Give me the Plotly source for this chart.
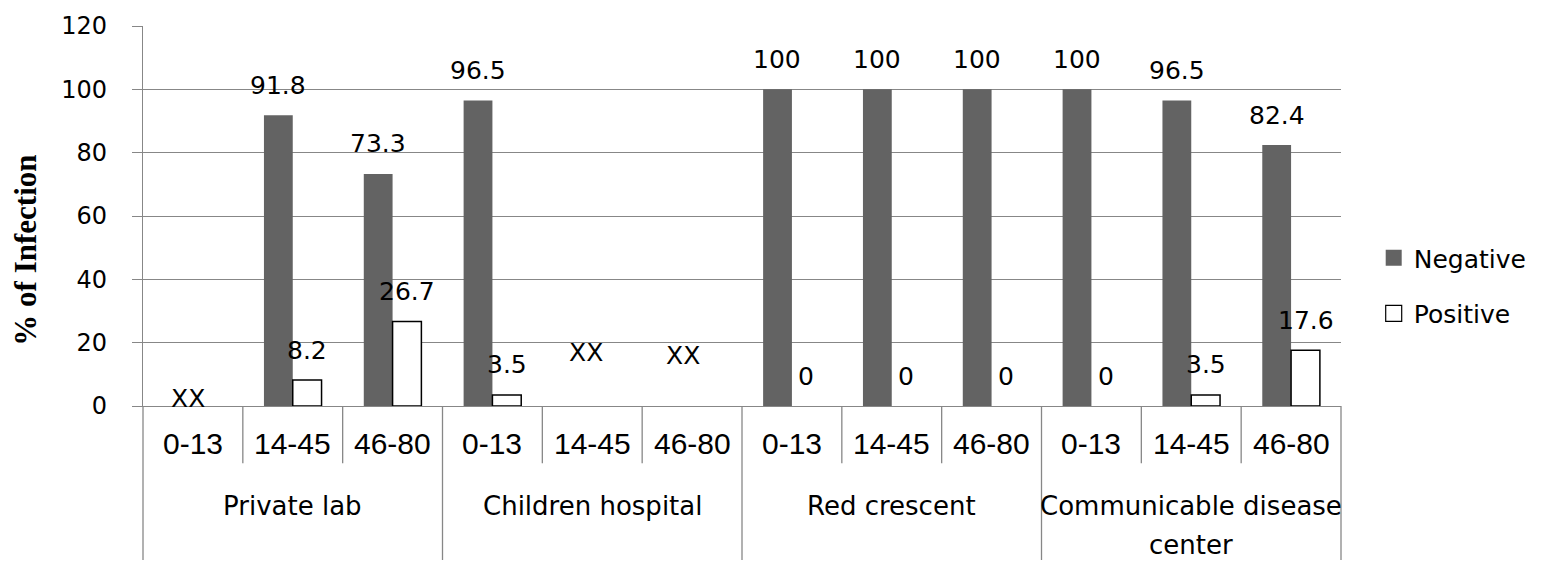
import plotly.graph_objects as go

# Sampling sites and age bands (years)
groups = ["Private lab", "Children hospital", "Red crescent", "Communicable disease center"]
ages = ["0-13", "14-45", "46-80"]

# % of infection per site / age band (None = no samples)
negative = [None, 91.8, 73.3, 96.5, None, None, 100, 100, 100, 100, 96.5, 82.4]
positive = [None, 8.2, 26.7, 3.5, None, None, 0, 0, 0, 0, 3.5, 17.6]

keys = [f"{g} / {a}" for g in groups for a in ages]

# Figure geometry (px)
W, H = 1544, 562
ML, MR, MT, MB = 143, 192, 21, 156
PLOT_W = W - ML - MR
PLOT_H = H - MT - MB
BARGAP = 0.423
CAT_W = PLOT_W / len(keys)
BAR_W = CAT_W * (1 - BARGAP) / 2

GRID = "#878787"
DARK = "#636363"
SANS = "DejaVu Sans"


def below(px):
    """Paper y-coordinate for a point px pixels below the x axis."""
    return -px / PLOT_H


def above_axis(px):
    """Paper y-coordinate for a point px pixels above the x axis."""
    return px / PLOT_H


# outline only on bars that have height
pos_outline = [1.5 if v else 0 for v in positive]

fig = go.Figure()
series_styles = [
    ("Negative", negative, dict(color=DARK, line=dict(width=0))),
    ("Positive", positive, dict(color="white", line=dict(color="black", width=pos_outline))),
]
for name, values, marker in series_styles:
    fig.add_trace(go.Bar(
        name=name, x=keys, y=values, marker=marker,
        legendgroup=name, showlegend=False,
    ))
# legend entries with a larger square key
for name, _, marker in series_styles:
    fig.add_trace(go.Scatter(
        name=name, x=[None], y=[None], mode="markers", legendgroup=name,
        marker=dict(symbol="square", size=16, color=marker["color"],
                    line=dict(color="black", width=1.2 if name == "Positive" else 0)),
        hoverinfo="skip",
    ))

annotations = []

# value labels above each bar
for series, side in ((negative, -1), (positive, 1)):
    for k, v in zip(keys, series):
        if v is None:
            continue
        annotations.append(dict(
            x=k, y=v, xref="x", yref="y", text=f"{v:g}", showarrow=False,
            xshift=side * BAR_W / 2, yshift=30, yanchor="middle",
            font=dict(family=SANS, size=25, color="black"),
        ))

# slots without samples
for k, rise, dx in ((keys[0], 8, -5), (keys[4], 54, -6), (keys[5], 51, -9)):
    annotations.append(dict(
        x=k, y=0, xref="x", yref="y", text="XX", showarrow=False,
        xshift=dx, yshift=rise, yanchor="middle",
        font=dict(family=SANS, size=25, color="black"),
    ))

# age-band labels (first level of the category axis)
for i, k in enumerate(keys):
    annotations.append(dict(
        x=(i + 0.5) / len(keys), y=below(38), xref="x domain", yref="paper",
        text=ages[i % 3], showarrow=False, xanchor="center", yanchor="middle",
        font=dict(family="Liberation Sans", size=30, color="black"),
    ))

# site labels (second level)
for gi, g in enumerate(groups):
    cx = (gi * 3 + 1.5) / len(keys)
    lines = ["Communicable disease", "center"] if g.startswith("Communicable") else [g]
    for li, line in enumerate(lines):
        annotations.append(dict(
            x=cx, y=below(101 + 40 * li), xref="x domain", yref="paper",
            text=line, showarrow=False, xanchor="center", yanchor="middle",
            font=dict(family=SANS, size=26, color="black"),
        ))

# y-axis title
annotations.append(dict(
    x=(23.5 - ML) / PLOT_W, y=above_axis(PLOT_H + MT - 248), xref="paper", yref="paper",
    text="% of Infection", textangle=-90, showarrow=False,
    xanchor="center", yanchor="middle",
    font=dict(family="Liberation Serif", size=31, color="black", weight="bold"),
))

# boundary lines of the two-level category axis
shapes = []
for b in range(len(keys) + 1):
    depth = 156 if b % 3 == 0 else 58
    shapes.append(dict(
        type="line", xref="x domain", yref="paper",
        x0=b / len(keys), x1=b / len(keys), y0=0, y1=below(depth),
        line=dict(color=GRID, width=1.3),
    ))

fig.update_layout(
    width=W, height=H,
    margin=dict(l=ML, r=MR, t=MT, b=MB, pad=0),
    paper_bgcolor="white", plot_bgcolor="white",
    barmode="group", bargap=BARGAP, bargroupgap=0,
    showlegend=True,
    legend=dict(
        x=(1385 - ML) / PLOT_W, y=above_axis(PLOT_H + MT - 284),
        xanchor="left", yanchor="middle",
        font=dict(family=SANS, size=25, color="black"),
        bgcolor="rgba(0,0,0,0)", borderwidth=0,
        tracegroupgap=20, itemsizing="trace",
    ),
    annotations=annotations,
    shapes=shapes,
)
fig.update_xaxes(
    type="category", categoryorder="array", categoryarray=keys,
    showticklabels=False, ticks="", showgrid=False, zeroline=False,
    showline=True, linecolor=GRID, linewidth=1.3,
)
fig.update_yaxes(
    range=[0, 120], dtick=20, tick0=0,
    showgrid=True, gridcolor=GRID, gridwidth=1.3, zeroline=False,
    showline=True, linecolor=GRID, linewidth=1.3,
    ticks="outside", ticklen=10, tickcolor=GRID, tickwidth=1.3,
    ticklabelstandoff=20,
    tickfont=dict(family=SANS, size=24, color="black"),
)

fig.write_html("out.html")
